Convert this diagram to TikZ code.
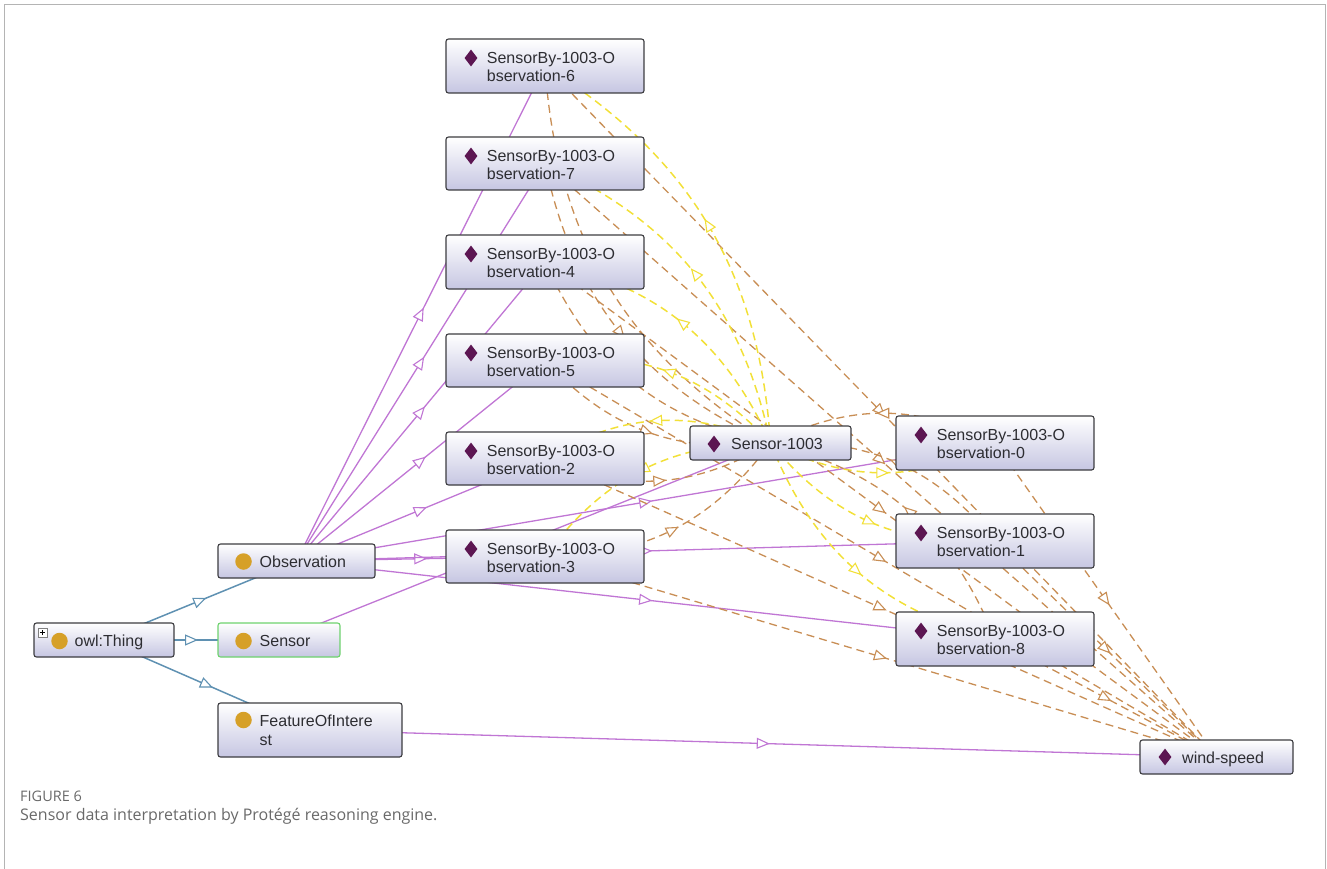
\documentclass[tikz,border=0pt]{standalone}
\usepackage{fontspec}
\setmainfont{Liberation Sans}
\newfontfamily\capfont{Open Sans}
\usetikzlibrary{arrows.meta,decorations.markings,shapes.geometric}
\pgfdeclarelayer{edges}
\pgfsetlayers{edges,main}

\definecolor{boxline}{RGB}{60,60,64}
\definecolor{boxfill}{RGB}{198,198,226}
\definecolor{txtcol}{RGB}{45,45,50}
\definecolor{diacol}{RGB}{92,22,82}
\definecolor{goldcol}{RGB}{214,160,40}
\definecolor{greencol}{RGB}{110,210,110}
\definecolor{isacol}{RGB}{95,145,178}
\definecolor{instcol}{RGB}{192,118,212}
\definecolor{foicol}{RGB}{200,142,85}
\definecolor{senscol}{RGB}{242,224,56}
\definecolor{framecol}{RGB}{180,180,180}
\definecolor{capcol}{RGB}{105,105,105}

\tikzset{
  box/.style={draw=boxline, line width=1.1pt, rounded corners=2.5pt,
    top color=white, bottom color=boxfill, inner sep=0pt, outer sep=0pt,
    anchor=north west},
  lbl/.style={anchor=base west, inner sep=0pt, text=txtcol,
    font=\fontsize{16}{18.5}\selectfont},
  dia/.style={diamond, fill=diacol, inner sep=0pt, minimum width=13pt,
    minimum height=17pt},
  dot/.style={circle, fill=goldcol, inner sep=0pt, minimum size=16.5pt},
  midarrow/.style={postaction={decorate, decoration={markings,
    mark=at position 0.5 with {\pgftransformxshift{6.5pt}%
      \arrow[line width=1.1pt]{Triangle[fill=white,length=13pt,width=11pt]}}}}},
  isa/.style={draw=isacol, line width=1.5pt, midarrow},
  inst/.style={draw=instcol, line width=1.3pt, midarrow},
  foi/.style={draw=foicol, line width=1.3pt, dash pattern=on 8pt off 5pt, midarrow},
  sens/.style={draw=senscol, line width=1.5pt, dash pattern=on 8pt off 5pt, midarrow},
}

% individual with a two-line name: name, left, top, height, line 1, line 2
\newcommand\obsbox[6]{%
  \node[box, minimum width=198pt, minimum height=#4pt] (#1) at (#2,#3) {};
  \node[dia] (#1-i) at ([shift={(25pt,-19pt)}]#1.north west) {};
  \node[lbl] (#1-a) at ([shift={(40.7pt,-24.3pt)}]#1.north west) {#5};
  \node[lbl] (#1-b) at ([shift={(40.7pt,-42.7pt)}]#1.north west) {#6};
}

\begin{document}
\begin{tikzpicture}[x=1pt, y=-1pt]
\useasboundingbox (0,0) rectangle (1327,869);
\draw[framecol, line width=1.5pt] (4.5,869) -- (4.5,4.5) -- (1325.5,4.5) -- (1325.5,869);

% classes
\node[box, minimum width=140pt, minimum height=34pt] (thing) at (34,623) {};
\node[dot] (thing-i) at ([shift={(25.5pt,-18pt)}]thing.north west) {};
\node[lbl] (thing-t) at ([shift={(40.5pt,-23pt)}]thing.north west) {owl:Thing};
\node[draw=gray, fill=white, line width=0.6pt, minimum size=8.5pt, inner sep=0pt, anchor=north west]
  (thing-x) at (38,628) {};
\draw[black, line width=0.9pt] ([xshift=-2.6pt]thing-x.center) -- ([xshift=2.6pt]thing-x.center)
  ([yshift=-2.6pt]thing-x.center) -- ([yshift=2.6pt]thing-x.center);

\node[box, minimum width=157pt, minimum height=34pt] (obs) at (218,544) {};
\node[dot] (obs-i) at ([shift={(25.5pt,-17.5pt)}]obs.north west) {};
\node[lbl] (obs-t) at ([shift={(41.5pt,-23pt)}]obs.north west) {Observation};

\node[box, draw=greencol, minimum width=122pt, minimum height=34pt] (sen) at (218,623) {};
\node[dot] (sen-i) at ([shift={(25.5pt,-18pt)}]sen.north west) {};
\node[lbl] (sen-t) at ([shift={(41.5pt,-23pt)}]sen.north west) {Sensor};

\node[box, minimum width=184pt, minimum height=54pt] (foi) at (218,703) {};
\node[dot] (foi-i) at ([shift={(25.5pt,-17pt)}]foi.north west) {};
\node[lbl] (foi-a) at ([shift={(41.5pt,-23pt)}]foi.north west) {FeatureOfIntere};
\node[lbl] (foi-b) at ([shift={(41.5pt,-42pt)}]foi.north west) {st};

% individuals
\obsbox{o6}{446}{39}{54}{SensorBy-1003-O}{bservation-6}
\obsbox{o7}{446}{137}{53}{SensorBy-1003-O}{bservation-7}
\obsbox{o4}{446}{235}{54}{SensorBy-1003-O}{bservation-4}
\obsbox{o5}{446}{334}{53}{SensorBy-1003-O}{bservation-5}
\obsbox{o2}{446}{432}{53}{SensorBy-1003-O}{bservation-2}
\obsbox{o3}{446}{530}{53}{SensorBy-1003-O}{bservation-3}
\obsbox{o0}{896}{416}{54}{SensorBy-1003-O}{bservation-0}
\obsbox{o1}{896}{514}{54}{SensorBy-1003-O}{bservation-1}
\obsbox{o8}{896}{612}{54}{SensorBy-1003-O}{bservation-8}

\node[box, minimum width=161pt, minimum height=34pt] (s1003) at (690,426) {};
\node[dia] (s1003-i) at ([shift={(24pt,-18pt)}]s1003.north west) {};
\node[lbl] (s1003-t) at ([shift={(41pt,-23pt)}]s1003.north west) {Sensor-1003};

\node[box, minimum width=153pt, minimum height=34pt] (wind) at (1140,740) {};
\node[dia] (wind-i) at ([shift={(25pt,-17pt)}]wind.north west) {};
\node[lbl] (wind-t) at ([shift={(42pt,-23pt)}]wind.north west) {wind-speed};

% caption
\node[anchor=base west, inner sep=0pt, text=capcol, font=\capfont\fontsize{14.5}{16}\selectfont]
  (figno) at (20,801) {FIGURE 6};
\node[anchor=base west, inner sep=0pt, text=capcol, font=\capfont\fontsize{16}{19}\selectfont]
  (figcap) at (20,820) {Sensor data interpretation by Protégé reasoning engine.};

\begin{pgfonlayer}{edges}
  % subclass links
  \draw[isa] (thing.center) -- (obs.center);
  \draw[isa] (thing.center) -- (sen.center);
  \draw[isa] (thing.center) -- (foi.center);
  % class membership
  \foreach \o in {o6,o7,o4,o5,o2,o3,o0,o1,o8}
    \draw[inst] (obs.center) -- (\o.center);
  \draw[inst] (sen.center) -- (s1003.center);
  \draw[inst] (foi.center) -- (wind.center);
  % feature of interest
  \foreach \o in {o6,o7,o4,o5,o2,o3,o0,o1,o8}
    \draw[foi] (\o.center) -- (wind.center);
  % observations and their sensor
  \foreach \o in {o6,o7,o4,o5,o2,o3,o0,o1,o8} {
    \draw[foi] (\o.center) to[bend right=27] (s1003.center);
    \draw[sens] (s1003.center) to[bend right=27] (\o.center);
  }
\end{pgfonlayer}
\end{tikzpicture}
\end{document}
